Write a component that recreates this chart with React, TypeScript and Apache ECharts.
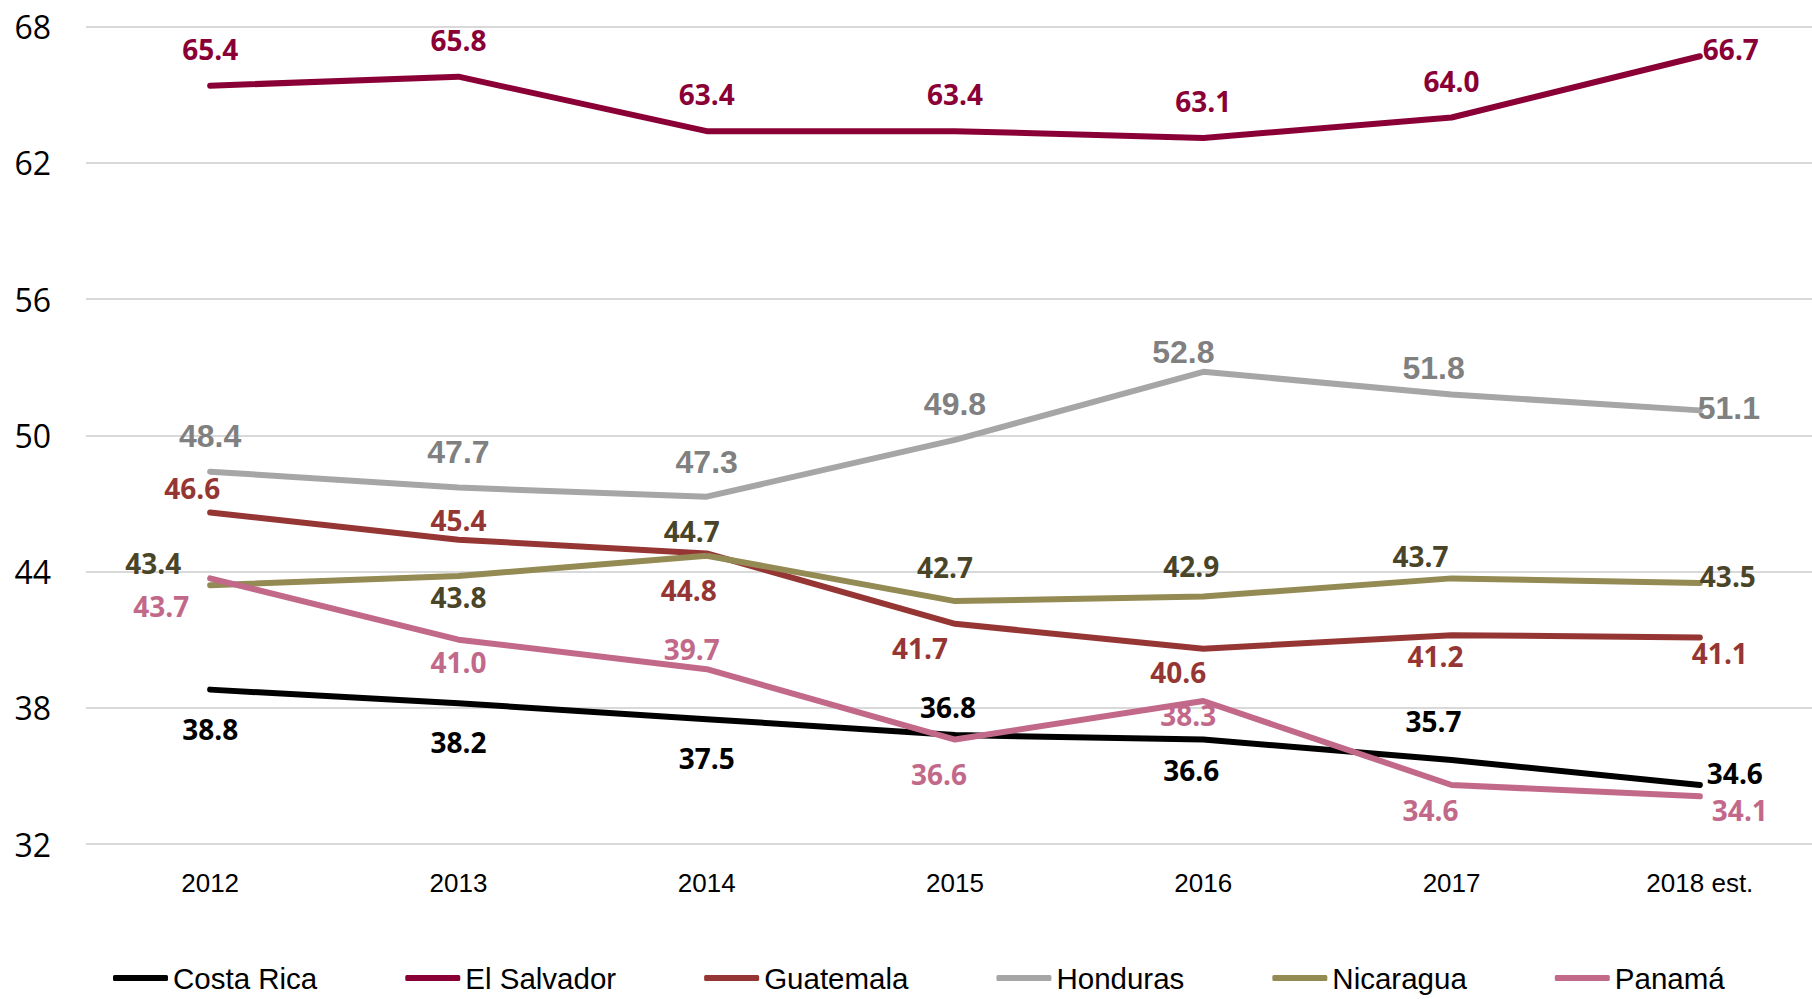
import React, { useEffect, useRef } from "react";
import * as echarts from "echarts";

const years = ["2012", "2013", "2014", "2015", "2016", "2017", "2018 est."];
const costaRica = [38.8, 38.2, 37.5, 36.8, 36.6, 35.7, 34.6];
const elSalvador = [65.4, 65.8, 63.4, 63.4, 63.1, 64.0, 66.7];
const guatemala = [46.6, 45.4, 44.8, 41.7, 40.6, 41.2, 41.1];
const honduras = [48.4, 47.7, 47.3, 49.8, 52.8, 51.8, 51.1];
const nicaragua = [43.4, 43.8, 44.7, 42.7, 42.9, 43.7, 43.5];
const panama = [43.7, 41.0, 39.7, 36.6, 38.3, 34.6, 34.1];
const yTicks = { min: 32, max: 68, interval: 6 };

// label placement offsets (pixels, relative to point)
const offCR = [[0, 39], [0, 39], [0, 39], [-7, -28], [-12, 30], [-18, -39], [35, -12]];
const offES = [[0, -37], [0, -37], [0, -37], [0, -37], [0, -37], [0, -37], [31, -7]];
const offGT = [[-18, -25], [0, -20], [-18, 37], [-35, 24], [-25, 23], [-16, 21], [20, 16]];
const offHN = [[0, -36], [0, -36], [0, -35], [0, -36], [-20, -20], [-18, -26], [29, -2]];
const offNI = [[-57, -22], [0, 21], [-15, -25], [-10, -34], [-12, -31], [-31, -22], [28, -7]];
const offPA = [[-49, 28], [0, 22], [-15, -20], [-16, 34], [-15, 14], [-21, 25], [40, 14]];

const sansFont = '"Liberation Sans", Arial, sans-serif';
const labelFont = '"Open Sans", "Noto Sans", sans-serif';

function makeSeries(
  name: string,
  values: number[],
  offsets: number[][],
  lineColor: string,
  labelColor: string,
  font: string,
  fontSize: number
) {
  return {
    name,
    type: "line",
    data: values.map((v, i) => ({
      value: v,
      label: { offset: offsets[i] },
    })),
    symbol: "circle",
    symbolSize: 1,
    showSymbol: true,
    itemStyle: { color: lineColor },
    lineStyle: { color: lineColor, width: 6, cap: "round", join: "round" },
    label: {
      show: true,
      position: "inside",
      color: labelColor,
      fontFamily: font,
      fontWeight: "bold",
      fontSize,
      formatter: (p: any) => Number(p.value).toFixed(1),
    },
    emphasis: { disabled: true },
  };
}

export default function App() {
  const ref = useRef<HTMLDivElement>(null);
  useEffect(() => {
    if (!ref.current) return;
    const chart = echarts.init(ref.current, undefined, { renderer: "svg" });
    chart.setOption({
      animation: false,
      backgroundColor: "#ffffff",
      grid: { left: 86, top: 26.7, width: 1738, height: 817.3, containLabel: false },
      xAxis: {
        type: "category",
        data: years,
        boundaryGap: true,
        axisLine: { show: false },
        axisTick: { show: false },
        axisLabel: { fontFamily: sansFont, fontSize: 26, color: "#000", margin: 26 },
        splitLine: { show: false },
      },
      yAxis: {
        type: "value",
        min: yTicks.min,
        max: yTicks.max,
        interval: yTicks.interval,
        axisLine: { show: false },
        axisTick: { show: false },
        axisLabel: { fontFamily: labelFont, fontSize: 32, color: "#000", margin: 35 },
        splitLine: { show: true, lineStyle: { color: "#D9D9D9", width: 2 } },
      },
      legend: {
        left: 108,
        top: 955,
        icon: "roundRect",
        itemWidth: 55,
        itemHeight: 6,
        itemGap: 88,
        textStyle: { fontFamily: sansFont, fontSize: 29.5, color: "#000", lineHeight: 36 },
        data: ["Costa Rica", "El Salvador", "Guatemala", "Honduras", "Nicaragua", "Panamá"],
      },
      series: [
        makeSeries("Costa Rica", costaRica, offCR, "#000000", "#000000", labelFont, 28),
        makeSeries("El Salvador", elSalvador, offES, "#8A0036", "#8A0036", labelFont, 28),
        makeSeries("Guatemala", guatemala, offGT, "#963634", "#963634", labelFont, 28),
        makeSeries("Honduras", honduras, offHN, "#A6A6A6", "#808080", '"Liberation Sans", Arial, sans-serif', 32),
        makeSeries("Nicaragua", nicaragua, offNI, "#948A54", "#4A4528", labelFont, 28),
        makeSeries("Panamá", panama, offPA, "#C2698A", "#C2698A", labelFont, 28),
      ],
    });
    return () => chart.dispose();
  }, []);
  return (
    <div
      style={{ position: "absolute", left: 0, top: 0, width: 1812, height: 999, overflow: "hidden", background: "#fff" }}
    >
      <div ref={ref} style={{ width: 1840, height: 999 }} />
    </div>
  );
}
